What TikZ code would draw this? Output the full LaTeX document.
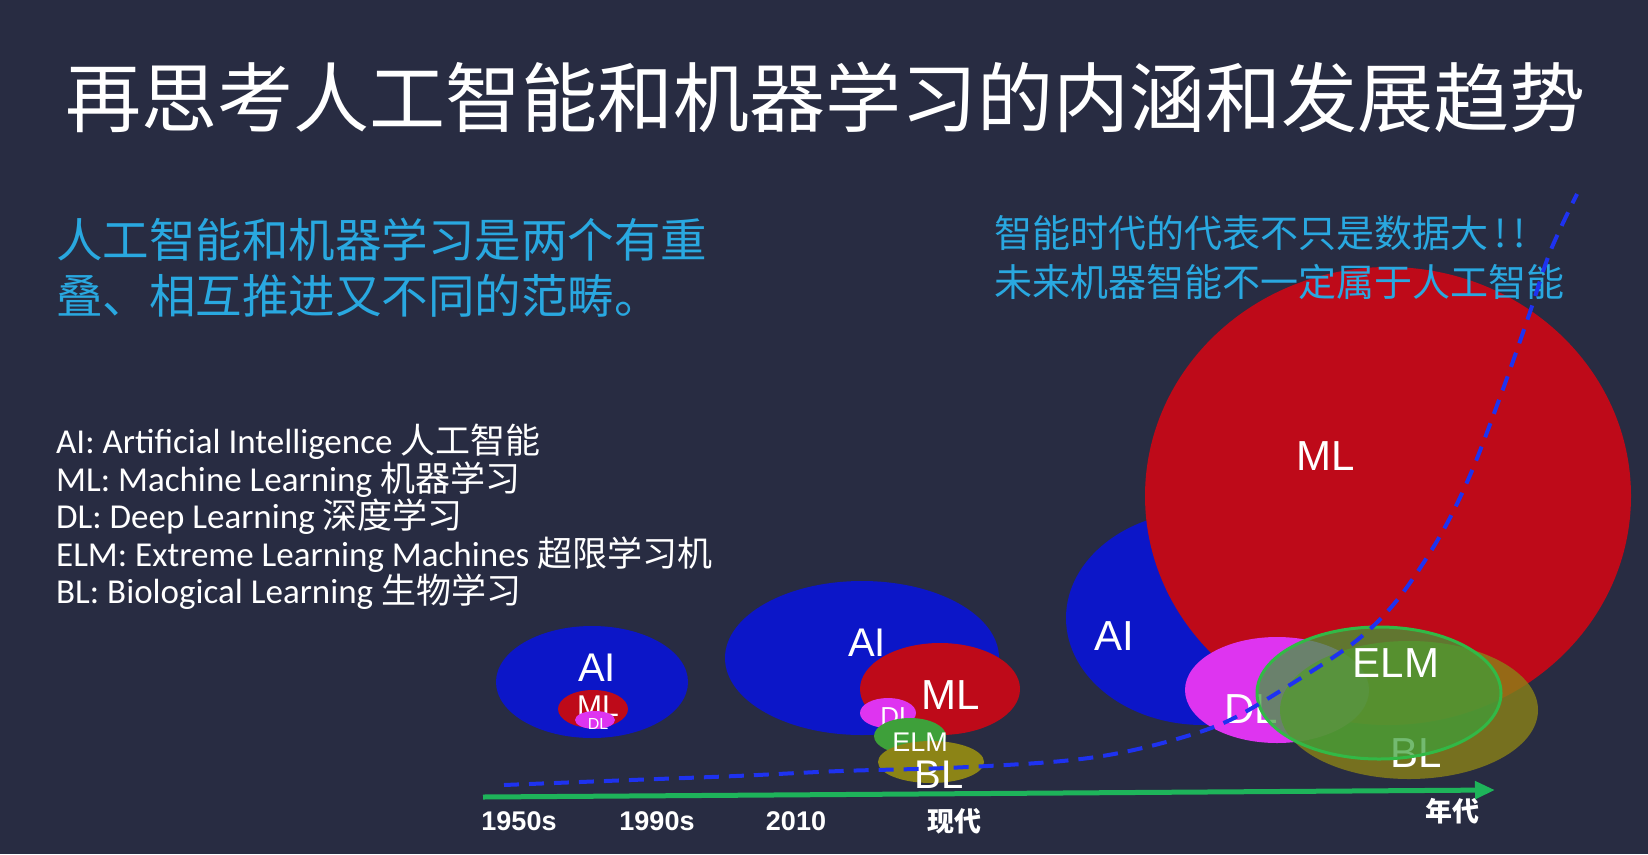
\documentclass[tikz,border=0pt]{standalone}
\usepackage{fontspec}
\usetikzlibrary{shapes.geometric,arrows.meta}
\newfontfamily\cjk{Noto Sans CJK SC}
\newfontfamily\lat{Carlito}
\newfontfamily\lab{Liberation Sans}
\definecolor{bg}{RGB}{40,44,66}
\definecolor{aiblue}{RGB}{12,22,200}
\definecolor{mlred}{RGB}{190,10,25}
\definecolor{dlmag}{RGB}{222,52,240}
\definecolor{elmgreen}{RGB}{62,160,58}
\definecolor{elmline}{RGB}{50,185,70}
\definecolor{blolive}{RGB}{140,132,22}
\definecolor{cyantxt}{RGB}{41,168,224}
\definecolor{axisgreen}{RGB}{30,180,90}
\definecolor{curveblue}{RGB}{30,50,240}
\tikzset{
  blob/.style={ellipse, inner sep=0pt, draw=none},
  lbl/.style={text=white, inner sep=0pt, font=\lab\fontsize{#1}{#1}\selectfont},
  legend/.style={text=white, anchor=west, inner sep=0pt, font=\lat\fontsize{35}{40}\selectfont},
  yearlbl/.style={text=white, inner sep=0pt, font=\lab\bfseries\fontsize{27}{28}\selectfont},
  cjkyear/.style={text=white, inner sep=0pt, font=\cjk\bfseries\fontsize{27}{28}\selectfont},
  dashcurve/.style={draw=curveblue, line width=4pt, dash pattern=on 15pt off 10pt},
}
\begin{document}
\begin{tikzpicture}[x=1pt,y=-1pt]
\fill[bg] (0,0) rectangle (1648,854);
\useasboundingbox (0,0) rectangle (1648,854);
% title
\node[text=white, inner sep=0pt, font=\cjk\fontsize{76}{80}\selectfont] (title) at (825,97) {再思考人工智能和机器学习的内涵和发展趋势};
% left subtitle
\node[text=cyantxt, anchor=west, inner sep=0pt, font=\cjk\fontsize{46.5}{50}\selectfont] (sub1) at (56,240) {人工智能和机器学习是两个有重};
\node[text=cyantxt, anchor=west, inner sep=0pt, font=\cjk\fontsize{46.5}{50}\selectfont] (sub2) at (56,296) {叠、相互推进又不同的范畴。};
% legend
\node[legend] (lg1) at (56,442) {AI: Artificial Intelligence {\cjk 人工智能}};
\node[legend] (lg2) at (56,480) {ML: Machine Learning {\cjk 机器学习}};
\node[legend] (lg3) at (56,517) {DL: Deep Learning {\cjk 深度学习}};
\node[legend] (lg4) at (56,555) {ELM: Extreme Learning Machines {\cjk 超限学习机}};
\node[legend] (lg5) at (56,592) {BL: Biological Learning {\cjk 生物学习}};
% 1950s group
\node[blob, fill=aiblue, minimum width=192pt, minimum height=112pt] (ai1) at (592,682) {};
\node[lbl=40] (ai1t) at (597,668) {AI};
\node[blob, fill=mlred, minimum width=70pt, minimum height=38pt] (ml1) at (593,709) {};
\node[lbl=30] (ml1t) at (598,706) {ML};
\node[blob, fill=dlmag, minimum width=40pt, minimum height=18pt] (dl1) at (595,720) {};
\node[lbl=16] (dl1t) at (598,724) {DL};
% 2010 group
\node[blob, fill=aiblue, minimum width=274pt, minimum height=154pt] (ai2) at (862,658) {};
\node[lbl=40] (ai2t) at (867,643) {AI};
\node[blob, fill=mlred, minimum width=160pt, minimum height=92pt] (ml2) at (940,689) {};
\node[lbl=42] (ml2t) at (951,695) {ML};
\node[blob, fill=dlmag, minimum width=56pt, minimum height=30pt] (dl2) at (888,713) {};
\node[lbl=26] (dl2t) at (897,717) {DL};
\node[blob, fill=elmgreen, minimum width=72pt, minimum height=36pt] (elm2) at (910,736) {};
\node[blob, fill=blolive, minimum width=106pt, minimum height=42pt] (bl2) at (931,762) {};
\node[lbl=27] (elm2t) at (920,742) {ELM};
\node[lbl=40] (bl2t) at (939,775) {BL};
% modern group
\node[blob, fill=aiblue, minimum width=274pt, minimum height=214pt] (ai3) at (1203,618) {};
\node[lbl=42] (ai3t) at (1114,636) {AI};
\node[blob, fill=mlred, minimum width=486pt, minimum height=458pt] (ml3) at (1388,496) {};
\node[lbl=42] (ml3t) at (1326,456) {ML};
\node[blob, fill=dlmag, minimum width=184pt, minimum height=106pt] (dl3) at (1277,690) {};
\node[lbl=42] (dl3t) at (1251,709) {DL};
\node[blob, fill=blolive, fill opacity=0.78, minimum width=258pt, minimum height=138pt] (bl3) at (1409,710) {};
\node[lbl=42] (bl3t) at (1416,753) {BL};
\node[blob, fill=elmgreen, fill opacity=0.72, draw=elmline, line width=3pt, minimum width=244pt, minimum height=132pt] (elm3) at (1379,693) {};
\node[lbl=42] (elm3t) at (1396,663) {ELM};
% right text
\node[text=cyantxt, anchor=west, inner sep=0pt, font=\cjk\fontsize{38}{42}\selectfont] (rt1) at (994,233) {智能时代的代表不只是数据大\,!\,!};
\node[text=cyantxt, anchor=west, inner sep=0pt, font=\cjk\fontsize{38}{42}\selectfont] (rt2) at (994,282) {未来机器智能不一定属于人工智能};
% timeline
\coordinate (t0) at (483,797);
\coordinate (t1) at (1495,790);
\draw[axisgreen, line width=5pt, -{Triangle[length=20pt,width=17pt]}] (t0) -- (t1);
\node[yearlbl] (y1) at (519,821) {1950s};
\node[yearlbl] (y2) at (657,821) {1990s};
\node[yearlbl] (y3) at (796,821) {2010};
\node[cjkyear] (y4) at (954,821) {现代};
\node[cjkyear] (y5) at (1452,811) {年代};
% trend curve
\draw[dashcurve] plot[smooth, tension=0.55] coordinates {(504,785) (631,780) (736,776) (841,771) (946,768) (1051,762) (1114,754) (1177,739) (1230,720) (1293,683) (1356,641) (1398,599) (1440,536) (1471,473) (1503,389) (1529,315) (1550,252) (1577,194)};
\end{tikzpicture}
\end{document}
